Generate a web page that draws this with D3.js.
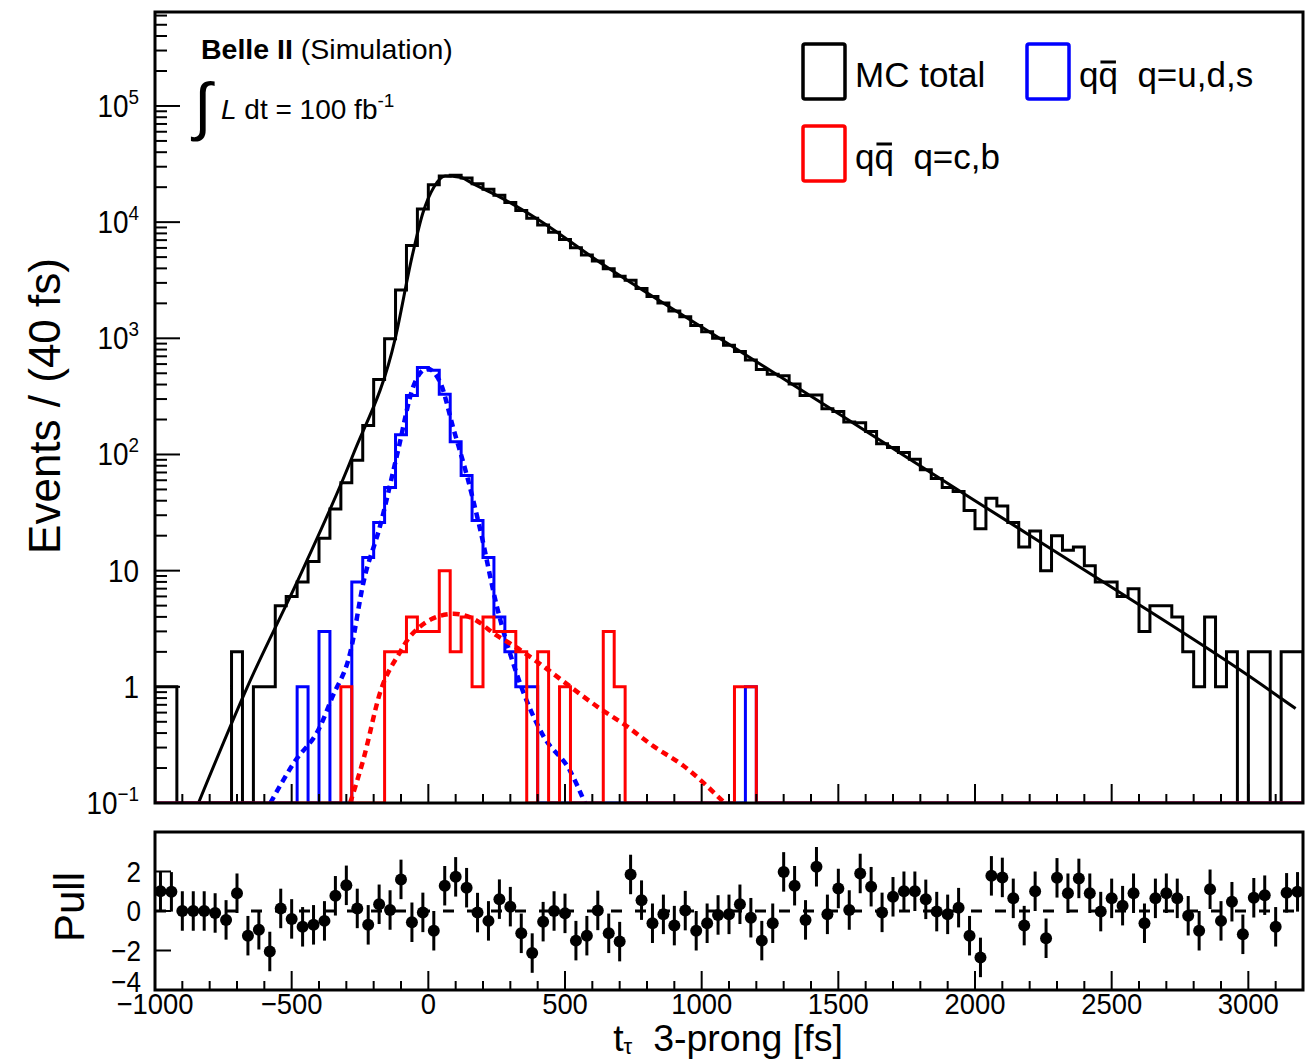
<!DOCTYPE html>
<html>
<head>
<meta charset="utf-8">
<script src="https://cdn.jsdelivr.net/npm/d3@7"></script>
<style>
  body { margin: 0; background: #fff; }
  svg { display: block; }
  text { font-family: "Liberation Sans", Arial, sans-serif; fill: #000; }
</style>
</head>
<body>
<svg id="chart" width="1305" height="1060"></svg>
<script>
// histogram binning: 105 bins of 40 fs from -1000 to 3200
var binLo = -1000, binW = 40;

// MC total (black), per bin
var mcTotal = [1,1,0,0,0,0,0,2,0,1,1,
  5,6,8,12,19,34,57,89,178,442,990,2600,6300,13000,21000,25000,25300,24000,21400,19200,
  17080,14730,12570,10780,9450,8200,7090,6030,5210,4640,3970,3430,3160,2690,2290,2010,1720,1530,1290,1140,
  1000,870,770,650,540,490,477,404,322,325,247,234,190,188,158,124,115,
  104,91,74,62,52,48,33,23,42,36,26,16,22,10,20,15,16,11,8,8,6,7,3,5,5,4,2,1,4,1,2,0,2,2,0,2,2];

// q qbar, q = u,d,s (blue)
var qqUds = [0,0,0,0,0,0,0,0,0,0,0,0,0,1,0,3,0,0,8,13,26,52,148,322,560,530,330,129,66,27,13,4,2,1,1,
  0,0,0,0,0,0,0,0,0,0,0,0,0,0,0,0,0,0,0,1,
  0,0,0,0,0,0,0,0,0,0,0,0,0,0,0,0,0,0,0,0,0,0,0,0,0,0,0,0,0,0,0,0,0,0,0,0,0,0,0,0,0,0,0,0,0,0,0,0,0,0];

// q qbar, q = c,b (red)
var qqCb = [0,0,0,0,0,0,0,0,0,0,0,0,0,0,0,0,0,1,0,0,0,2,2,4,3,3,10,2,4,1,4,3,3,2,0,2,0,1,0,0,0,3,1,
  0,0,0,0,0,0,0,0,0,0,1,1,
  0,0,0,0,0,0,0,0,0,0,0,0,0,0,0,0,0,0,0,0,0,0,0,0,0,0,0,0,0,0,0,0,0,0,0,0,0,0,0,0,0,0,0,0,0,0,0,0,0,0];

// fit curves: [t (fs), events]
var fitTotal = [[-841,0.1],[-662,1],[-461,10],[-275,100],[-121,1000],[-60,5000],[-20,12000],[20,20000],
  [61,25000],[116,24300],[170,21000],[250,17000],[400,10600],[628,4500],[1000,1250],[1500,225],
  [2000,40],[2500,7.2],[3000,1.25],[3173,0.65]];
var fitUds = [[-578,0.1],[-493,0.22],[-395,0.46],[-353,0.8],[-285,2.0],[-237,8],[-176,24.5],[-115,98],
  [-54,390],[-5,550],[43,420],[92,166],[141,66],[189,23],[250,5],[323,1.3],[420,0.38],[518,0.19],[573,0.1]];
var fitCb = [[-286,0.1],[-237,0.24],[-176,0.9],[-103,2.0],[-73,2.6],[-30,3.3],[19,3.9],[92,4.25],[165,3.85],
  [250,2.77],[311,2.27],[408,1.58],[482,1.17],[628,0.65],[725,0.46],[822,0.31],[932,0.21],[1084,0.1]];

// pulls per bin
var pulls = [1.0,0.97,0,0,0,-0.1,-0.45,0.9,-1.25,-0.95,-2.05,0.13,-0.4,-0.8,-0.7,-0.5,0.77,1.3,0.13,-0.7,
  0.34,0.05,1.6,-0.57,-0.07,-1.0,1.28,1.73,1.18,-0.08,-0.5,0.6,0.22,-1.13,-2.13,-0.54,0,-0.12,-1.5,-1.25,
  0.03,-1.13,-1.55,1.85,0.55,-0.62,-0.17,-0.74,0.02,-1.0,-0.62,-0.2,-0.17,0.34,-0.34,-1.5,-0.62,1.98,1.28,-0.45,
  2.24,-0.17,1.14,0.05,1.9,1.23,-0.07,0.72,1.0,1.0,0.59,-0.03,-0.17,0.17,-1.25,-2.35,1.78,1.7,0.64,-0.74,
  1.0,-1.38,1.68,0.9,1.65,0.9,-0.03,0.64,0.27,0.9,-0.62,0.64,0.9,0.64,-0.24,-1.0,1.1,-0.5,0.47,-1.18,
  0.67,0.8,-0.8,0.92,0.97];

var xTicks = [-1000,-500,0,500,1000,1500,2000,2500,3000];
var yDecades = [-1,0,1,2,3,4,5];
var pullTicks = [-4,-2,0,2];
var legendItems = [
  {label: "MC total", color: "#000"},
  {label: "  q=u,d,s", color: "#0000ff", qq: true},
  {label: "  q=c,b", color: "#ff0000", qq: true}
];

var svg = d3.select("#chart");

var x = d3.scaleLinear().domain([-1000, 3200]).range([155, 1303]);
var y = d3.scaleLog().domain([0.1, 6.44e5]).range([803, 12]);
var yp = d3.scaleLinear().domain([-4, 4]).range([990, 832]);

// text helper; sx < 1 narrows the lettering (tick labels are a bit condensed)
function label(g, tx, ty, size, anchor, rot, sx) {
  var tr = "translate(" + tx + "," + ty + ")" + (rot ? " rotate(" + rot + ")" : "");
  if (sx) tr += " scale(" + sx + ",1)";
  return g.append("text")
    .attr("transform", tr)
    .attr("font-size", size)
    .attr("text-anchor", anchor || "start");
}
var minus = (v) => v < 0 ? "\u2212" + (-v) : String(v);

// ---------- top panel ----------
var upper = svg.append("g");

svg.append("defs").append("clipPath").attr("id", "clipTop").append("rect")
  .attr("x", 155).attr("y", 12).attr("width", 1148).attr("height", 791);

var plot = upper.append("g").attr("clip-path", "url(#clipTop)");

function histPath(vals) {
  var floor = y.domain()[0];
  var yv = (v) => y(Math.max(v, floor));
  var p = "M" + x(binLo) + "," + y(floor);
  vals.forEach(function (v, i) {
    p += "V" + yv(v) + "H" + x(binLo + (i + 1) * binW);
  });
  return p + "V" + y(floor);
}

var fitLine = d3.line()
  .x((d) => x(d[0]))
  .y((d) => y(d[1]))
  .curve(d3.curveMonotoneX);

plot.append("path").attr("d", histPath(mcTotal))
  .attr("fill", "none").attr("stroke", "#000").attr("stroke-width", 3);
plot.append("path").attr("d", fitLine(fitTotal))
  .attr("fill", "none").attr("stroke", "#000").attr("stroke-width", 3);

plot.append("path").attr("d", histPath(qqUds))
  .attr("fill", "none").attr("stroke", "#0000ff").attr("stroke-width", 3);
plot.append("path").attr("d", fitLine(fitUds))
  .attr("fill", "none").attr("stroke", "#0000ff").attr("stroke-width", 4.5)
  .attr("stroke-dasharray", "7,5");

plot.append("path").attr("d", histPath(qqCb))
  .attr("fill", "none").attr("stroke", "#ff0000").attr("stroke-width", 3);
plot.append("path").attr("d", fitLine(fitCb))
  .attr("fill", "none").attr("stroke", "#ff0000").attr("stroke-width", 4.5)
  .attr("stroke-dasharray", "7,5");

// frame
upper.append("rect").attr("x", 155).attr("y", 12).attr("width", 1148).attr("height", 791)
  .attr("fill", "none").attr("stroke", "#000").attr("stroke-width", 3);

// y ticks (log)
var yt = upper.append("g");
yDecades.forEach(function (d) {
  for (var m = 1; m <= 9; m++) {
    var v = m * Math.pow(10, d);
    if (v > y.domain()[1]) break;
    var len = m === 1 ? 25 : 12;
    yt.append("line").attr("x1", 155).attr("x2", 155 + len)
      .attr("y1", y(v)).attr("y2", y(v)).attr("stroke", "#000").attr("stroke-width", 2);
  }
  var t = label(yt, 139, y(Math.pow(10, d)) + 11, 31, "end", 0, 0.9);
  if (d === 0) t.text("1");
  else if (d === 1) t.text("10");
  else {
    t.append("tspan").text("10");
    t.append("tspan").attr("dy", -13).attr("font-size", 21).text(minus(d));
  }
});

// x ticks, shared by both panels
function xTickMarks(g, yBase) {
  d3.range(-1000, 3201, 100).forEach(function (v) {
    var major = v % 500 === 0;
    g.append("line").attr("x1", x(v)).attr("x2", x(v))
      .attr("y1", yBase).attr("y2", yBase - (major ? 19 : 9))
      .attr("stroke", "#000").attr("stroke-width", 2);
  });
}
xTickMarks(upper, 803);

// y title
label(upper, 60, 406, 44, "middle", -90).text("Events / (40 fs)");

// Belle II annotation
var ann = label(upper, 201, 59, 28.5, "start");
ann.append("tspan").attr("font-weight", "bold").text("Belle II");
ann.append("tspan").text(" (Simulation)");
label(upper, 194, 128, 64, "start").text("\u222b");
var lum = label(upper, 221, 119, 28, "start");
lum.append("tspan").attr("font-style", "italic").text("L");
lum.append("tspan").text(" dt = 100 fb");
lum.append("tspan").attr("dy", -12).attr("font-size", 19).text("-1");

// legend
var legPos = [[803, 44], [1027, 44], [803, 126]];
legendItems.forEach(function (it, i) {
  var p = legPos[i];
  upper.append("rect").attr("x", p[0]).attr("y", p[1]).attr("width", 42).attr("height", 55)
    .attr("rx", 2).attr("fill", "none").attr("stroke", it.color).attr("stroke-width", 3.5);
  var g = upper.append("g").attr("transform", "translate(" + (p[0] + 52) + "," + (p[1] + 43) + ")");
  var t = g.append("text").attr("font-size", 35);
  if (!it.qq) { t.text(it.label); return; }
  t.append("tspan").text("qq");
  t.append("tspan").attr("xml:space", "preserve").text(it.label);
  var ext = t.node().getExtentOfChar(1);
  g.append("line").attr("x1", ext.x + 2).attr("x2", ext.x + ext.width - 2)
    .attr("y1", -25).attr("y2", -25).attr("stroke", "#000").attr("stroke-width", 3);
});

// ---------- pull panel ----------
var bot = svg.append("g");
bot.append("line").attr("x1", 155).attr("x2", 1303).attr("y1", yp(0)).attr("y2", yp(0))
  .attr("stroke", "#000").attr("stroke-width", 3).attr("stroke-dasharray", "11,13");

var pts = bot.append("g");
pulls.forEach(function (p, i) {
  var cx = x(binLo + (i + 0.5) * binW);
  pts.append("line").attr("x1", cx).attr("x2", cx)
    .attr("y1", yp(p - 1)).attr("y2", yp(p + 1))
    .attr("stroke", "#000").attr("stroke-width", 3);
  pts.append("circle").attr("cx", cx).attr("cy", yp(p)).attr("r", 6).attr("fill", "#000");
});

bot.append("rect").attr("x", 155).attr("y", 832).attr("width", 1148).attr("height", 158)
  .attr("fill", "none").attr("stroke", "#000").attr("stroke-width", 3);

xTickMarks(bot, 990);
pullTicks.forEach(function (v) {
  bot.append("line").attr("x1", 155).attr("x2", 171).attr("y1", yp(v)).attr("y2", yp(v))
    .attr("stroke", "#000").attr("stroke-width", 2);
  label(bot, 141, yp(v) + (v === -4 ? 2 : 10), 29, "end", 0, 0.9).text(minus(v));
});
xTicks.forEach(function (v) {
  label(bot, x(v), 1014, 29.5, "middle", 0, 0.93).text(minus(v));
});

label(bot, 84, 907, 42, "middle", -90).text("Pull");

var xt = label(bot, 728, 1051, 37.5, "middle");
xt.append("tspan").text("t");
xt.append("tspan").attr("dy", 3).attr("font-size", 22).text("\u03c4");
xt.append("tspan").attr("dy", -3).attr("xml:space", "preserve").text("  3-prong [fs]");
</script>
</body>
</html>
